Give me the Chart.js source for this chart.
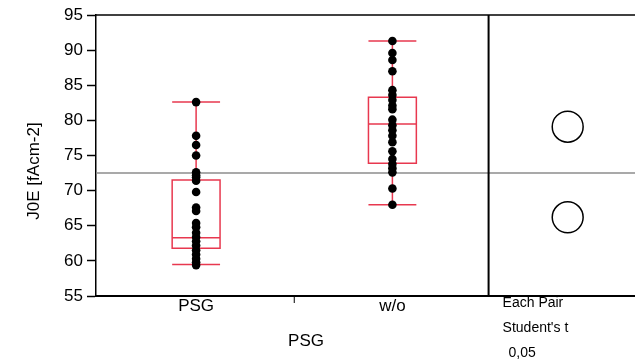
<!DOCTYPE html>
<html>
    <head>
        <meta charset = "UTF-8">
        <title>J0E by PSG</title>
        <script src = "https://cdn.jsdelivr.net/npm/chart.js@4.4.1/dist/chart.umd.min.js"></script>
        <style>
            body{margin:0;background:#fff;overflow:hidden;}
            canvas{display:block;}
        </style>
    </head>
    <body>
        <canvas id = "chart" width = "635" height = "363"></canvas>
        <script>
            //groups on the x axis
            const groups = ["PSG","w/o"];
            //measured J0E values per group
            const psgValues = [82.6,77.8,76.5,75.0,72.6,72.2,71.9,71.4,69.8,67.6,67.1,
                65.4,64.8,64.0,63.4,62.8,62.2,61.5,60.9,60.3,59.8,59.4];
            const woValues = [91.3,89.6,88.6,87.0,84.3,83.6,82.9,82.1,81.6,80.1,79.3,
                78.6,77.8,76.9,75.6,74.5,73.8,73.2,72.6,70.3,68.0];
            //box plot stats, one entry per group
            const whiskerLow = [59.5,68.0];
            const boxQ1 = [61.8,73.9];
            const boxMedian = [63.3,79.5];
            const boxQ3 = [71.5,83.3];
            const whiskerHigh = [82.6,91.3];
            //means for the comparison circles + the grand mean line
            const groupMeans = [66.2,79.1];
            const circleRadius = 2.2;
            const grandMean = 72.5;
            //y ticks
            const yMin = 55, yMax = 95, yStep = 5;

            const FONT = "'Liberation Sans', Arial, sans-serif";
            const RED = "#e8384f";
            //x layout: groups near 0.5 and 1.5, divider at 2, circles panel after it
            const groupX = [0.51,1.51];
            const midTick = 1.01;
            const dividerX = 2;
            const circleX = 2.403;
            //chart area stops ~5px short of the canvas, lines get extended by hand
            const xMax = 2.724;
            const boxHalf = 0.122;

            const oneway = {
                id:"oneway",
                beforeDatasetsDraw(chart)
                {
                    const {ctx,chartArea:a,scales:{x,y}} = chart;
                    //frame runs to the canvas edge
                    const right = Math.max(a.right,chart.width);
                    ctx.save();
                    //grand mean
                    ctx.strokeStyle = "#8c8c8c";
                    ctx.lineWidth = 1.5;
                    ctx.beginPath();
                    ctx.moveTo(a.left,y.getPixelForValue(grandMean));
                    ctx.lineTo(right,y.getPixelForValue(grandMean));
                    ctx.stroke();
                    //boxes
                    ctx.strokeStyle = RED;
                    ctx.lineWidth = 1.5;
                    for(let i = 0;i<groups.length;i++)
                    {
                        const l = x.getPixelForValue(groupX[i]-boxHalf);
                        const r = x.getPixelForValue(groupX[i]+boxHalf);
                        const c = x.getPixelForValue(groupX[i]);
                        const yv = v=>y.getPixelForValue(v);
                        ctx.beginPath();
                        ctx.rect(l,yv(boxQ3[i]),r-l,yv(boxQ1[i])-yv(boxQ3[i]));
                        ctx.moveTo(l,yv(boxMedian[i]));ctx.lineTo(r,yv(boxMedian[i]));
                        ctx.moveTo(c,yv(boxQ3[i]));ctx.lineTo(c,yv(whiskerHigh[i]));
                        ctx.moveTo(c,yv(boxQ1[i]));ctx.lineTo(c,yv(whiskerLow[i]));
                        ctx.moveTo(l,yv(whiskerHigh[i]));ctx.lineTo(r,yv(whiskerHigh[i]));
                        ctx.moveTo(l,yv(whiskerLow[i]));ctx.lineTo(r,yv(whiskerLow[i]));
                        ctx.stroke();
                    }
                    //top line, bottom line + divider
                    ctx.strokeStyle = "#000";
                    ctx.lineWidth = 1.5;
                    ctx.beginPath();
                    ctx.moveTo(a.left,a.top);ctx.lineTo(right,a.top);
                    ctx.stroke();
                    ctx.lineWidth = 2;
                    ctx.beginPath();
                    ctx.moveTo(a.left,a.bottom);ctx.lineTo(right,a.bottom);
                    ctx.moveTo(x.getPixelForValue(dividerX),a.top);
                    ctx.lineTo(x.getPixelForValue(dividerX),a.bottom);
                    ctx.stroke();
                    //the one tick mark between the groups
                    ctx.lineWidth = 1;
                    ctx.beginPath();
                    ctx.moveTo(x.getPixelForValue(midTick),a.bottom);
                    ctx.lineTo(x.getPixelForValue(midTick),a.bottom+7);
                    ctx.stroke();
                    ctx.restore();
                },
                afterDraw(chart)
                {
                    const {ctx,scales:{x}} = chart;
                    ctx.save();
                    ctx.fillStyle = "#000";
                    ctx.textBaseline = "middle";
                    //y title
                    ctx.font = "17px "+FONT;
                    ctx.textAlign = "center";
                    ctx.translate(34,171);
                    ctx.rotate(-Math.PI/2);
                    ctx.fillText("J0E [fAcm-2]",0,0);
                    ctx.restore();
                    ctx.save();
                    ctx.fillStyle = "#000";
                    ctx.textBaseline = "middle";
                    ctx.font = "17px "+FONT;
                    ctx.textAlign = "center";
                    ctx.fillText("PSG",306,341);
                    //test info under the circles panel
                    ctx.font = "14px "+FONT;
                    ctx.textAlign = "left";
                    const tx = x.getPixelForValue(dividerX)+14;
                    ctx.fillText("Each Pair",tx,303);
                    ctx.fillText("Student's t",tx,328);
                    ctx.fillText("0,05",tx+6,353);
                    ctx.restore();
                }
            };

            const chart = new Chart(document.getElementById("chart"),{
                type:"scatter",
                data:{
                    datasets:[
                        {
                            data:psgValues.map(v=>({x:groupX[0],y:v})),
                            backgroundColor:"#000",
                            borderWidth:0,
                            pointRadius:4.3
                        },
                        {
                            data:woValues.map(v=>({x:groupX[1],y:v})),
                            backgroundColor:"#000",
                            borderWidth:0,
                            pointRadius:4.3
                        },
                        {
                            data:groupMeans.map(m=>({x:circleX,y:m})),
                            backgroundColor:"rgba(0,0,0,0)",
                            borderColor:"#000",
                            borderWidth:1.5,
                            //radius in y units -> pixels
                            pointRadius:c=>{
                                const y = c.chart.scales.y;
                                if(!y) return 15;
                                return Math.abs(y.getPixelForValue(0)-y.getPixelForValue(circleRadius));
                            }
                        }
                    ]
                },
                options:{
                    responsive:false,
                    animation:false,
                    events:[],
                    layout:{padding:{left:0,top:15,right:0,bottom:0}},
                    plugins:{legend:{display:false},tooltip:{enabled:false}},
                    scales:{
                        x:{
                            type:"linear",
                            min:0,
                            max:xMax,
                            afterBuildTicks:s=>{s.ticks = groupX.map(v=>({value:v}));},
                            afterFit:s=>{s.height = 67;s.paddingLeft = 0;s.paddingRight = 0;},
                            ticks:{
                                autoSkip:false,
                                maxRotation:0,
                                padding:0,
                                color:"#000",
                                font:{family:FONT,size:17},
                                callback:v=>groups[groupX.indexOf(v)] ?? ""
                            },
                            grid:{
                                drawOnChartArea:false,
                                drawTicks:false
                            },
                            border:{color:"#000",width:2}
                        },
                        y:{
                            min:yMin,
                            max:yMax,
                            afterFit:s=>{s.width = 96;},
                            ticks:{
                                stepSize:yStep,
                                padding:4,
                                color:"#000",
                                font:{family:FONT,size:17}
                            },
                            grid:{
                                drawOnChartArea:false,
                                tickLength:9,
                                tickWidth:1.5,
                                tickColor:"#000"
                            },
                            border:{color:"#000",width:1.5}
                        }
                    }
                },
                plugins:[oneway]
            });
        </script>
    </body>
</html>
